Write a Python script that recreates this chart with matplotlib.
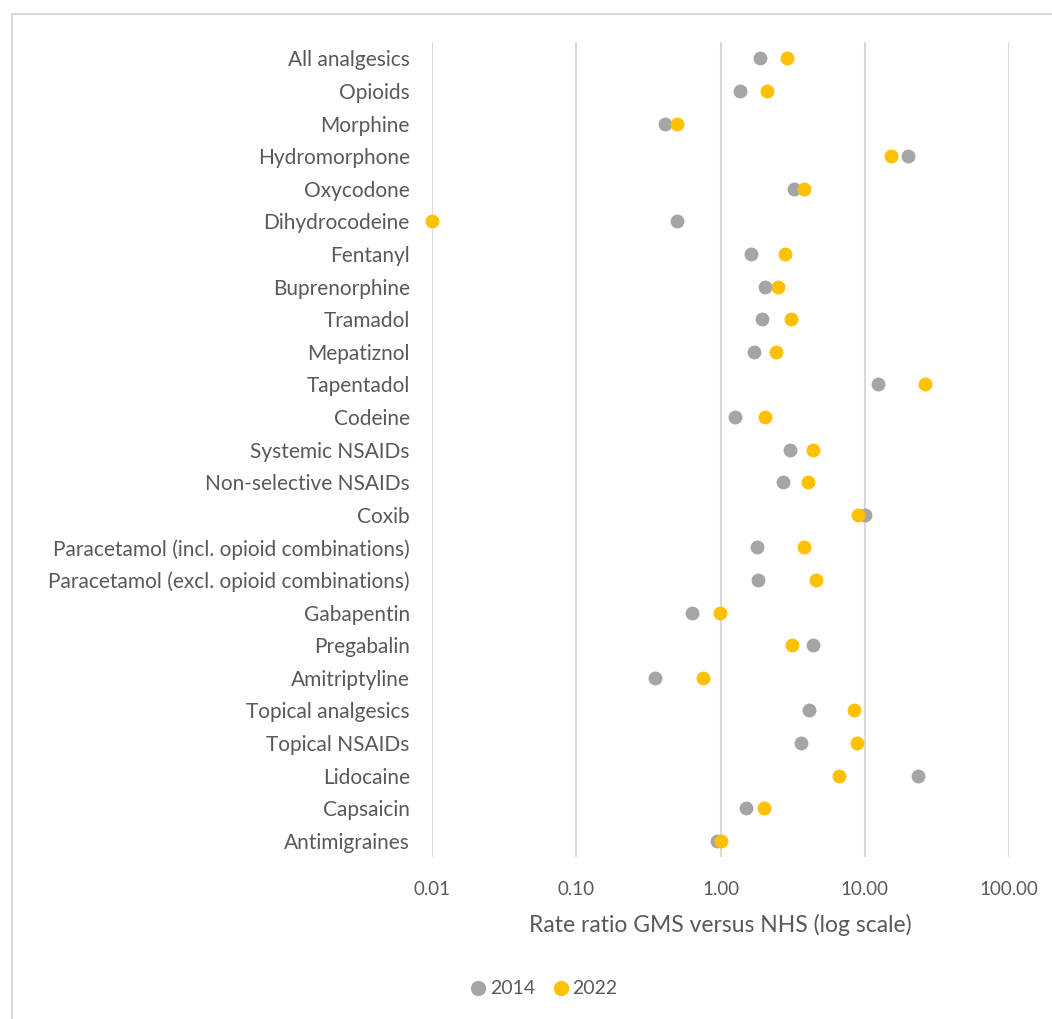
import matplotlib
matplotlib.use('Agg')
import matplotlib.pyplot as plt
from matplotlib.patches import Rectangle
from matplotlib.lines import Line2D
from matplotlib.ticker import FixedLocator, FuncFormatter

plt.rcParams['font.family'] = ['Lato', 'DejaVu Sans']

categories = [
    'All analgesics', 'Opioids', 'Morphine', 'Hydromorphone', 'Oxycodone',
    'Dihydrocodeine', 'Fentanyl', 'Buprenorphine', 'Tramadol', 'Mepatiznol',
    'Tapentadol', 'Codeine', 'Systemic NSAIDs', 'Non-selective NSAIDs', 'Coxib',
    'Paracetamol (incl. opioid combinations)',
    'Paracetamol (excl. opioid combinations)',
    'Gabapentin', 'Pregabalin', 'Amitriptyline', 'Topical analgesics',
    'Topical NSAIDs', 'Lidocaine', 'Capsaicin', 'Antimigraines',
]
rr_2014 = [1.87, 1.37, 0.41, 19.8, 3.21, 0.50, 1.63, 2.05, 1.95, 1.72,
           12.3, 1.27, 3.04, 2.70, 10.0, 1.78, 1.81, 0.63, 4.36, 0.35,
           4.11, 3.60, 23.4, 1.51, 0.94]
rr_2022 = [2.87, 2.09, 0.50, 15.1, 3.82, 0.01, 2.82, 2.49, 3.07, 2.44,
           26.0, 2.05, 4.41, 4.01, 8.99, 3.78, 4.60, 0.99, 3.13, 0.76,
           8.39, 8.81, 6.68, 1.99, 1.01]
x_ticks = [0.01, 0.1, 1, 10, 100]

grey = '#a5a5a5'
gold = '#ffc000'
text_col = '#595959'

fig = plt.figure(figsize=(10.52, 10.19), dpi=100)
ax = fig.add_axes([432 / 1052, 1 - 857 / 1019, 577 / 1052, 815 / 1019])

ypos = list(range(len(categories)))
ax.plot(rr_2014, ypos, 'o', color=grey, markersize=10, markeredgewidth=0,
        clip_on=False, zorder=3, label='2014')
ax.plot(rr_2022, ypos, 'o', color=gold, markersize=10, markeredgewidth=0,
        clip_on=False, zorder=4, label='2022')

ax.set_xscale('log')
ax.set_xlim(0.01, 100)
ax.set_ylim(len(categories) - 0.5, -0.5)
ax.xaxis.set_major_locator(FixedLocator(x_ticks))
ax.xaxis.set_minor_locator(FixedLocator([]))
ax.xaxis.set_major_formatter(FuncFormatter(lambda v, p: f'{v:.2f}'))
ax.set_yticks(ypos)
ax.set_yticklabels(categories)

ax.grid(axis='x', color='#d9d9d9', linewidth=1.5)
ax.set_axisbelow(True)
for s in ax.spines.values():
    s.set_visible(False)
ax.tick_params(axis='x', length=0, colors=text_col, labelsize=13.5, pad=17)
ax.tick_params(axis='y', length=0, colors=text_col, labelsize=15, pad=16)
ax.set_xlabel('Rate ratio GMS versus NHS (log scale)', fontsize=16.5,
              color=text_col, labelpad=12)

handles = [Line2D([], [], marker='o', linestyle='', color=grey, markersize=10),
           Line2D([], [], marker='o', linestyle='', color=gold, markersize=10)]
fig.legend(handles, ['2014', '2022'], loc='center',
           bbox_to_anchor=(543 / 1052, 1 - 989 / 1019), ncol=2, frameon=False,
           fontsize=14, labelcolor=text_col, handletextpad=0.1,
           columnspacing=0.8, handlelength=1.0)

# outer chart frame (only left and top visible in the reference)
fig.patches.append(Rectangle((12 / 1052, -0.1), 1.2, 1.1 - 14 / 1019,
                             transform=fig.transFigure, fill=False,
                             edgecolor='#d9d9d9', linewidth=1.5))

fig.savefig('out.png', dpi=100)
